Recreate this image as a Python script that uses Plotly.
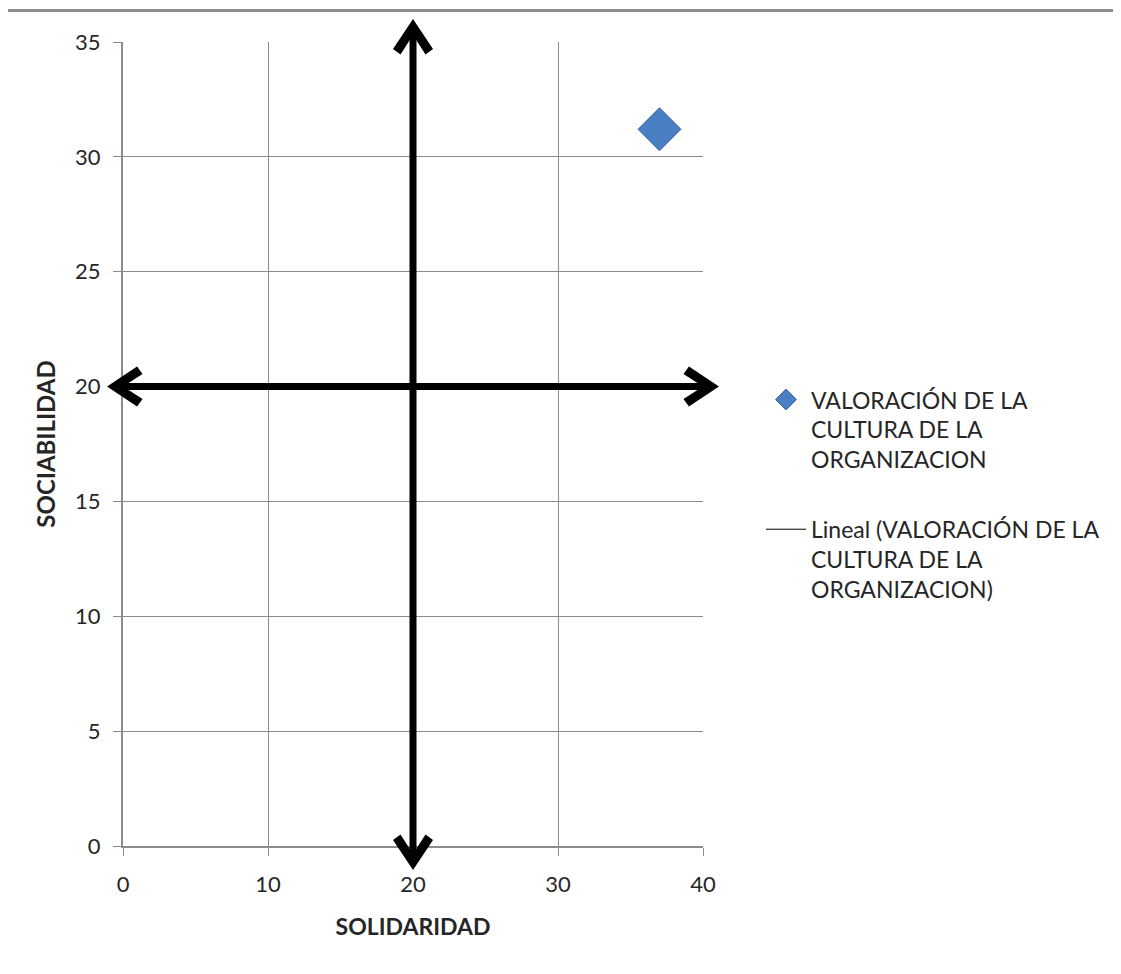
import plotly.graph_objects as go

# Data
x_vals = [37]
y_vals = [31.2]
series_name = "VALORACIÓN DE LA<br>CULTURA DE LA<br>ORGANIZACION"
trend_name = "Lineal (VALORACIÓN DE LA<br>CULTURA DE LA<br>ORGANIZACION)"
x_ticks = [0, 10, 20, 30, 40]
y_ticks = [0, 5, 10, 15, 20, 25, 30, 35]
x_range = [0, 40]
y_range = [0, 35]
x_mid = 20
y_mid = 20
v_arrow_span = [-1.05, 36.0]   # vertical arrow extent (y units)
h_arrow_span = [-1.1, 41.1]    # horizontal arrow extent (x units)

FONT = "Lato, 'Open Sans', sans-serif"
TXT = "#262626"

# Layout geometry (page has 8px body margin)
W, H = 1113, 966
ML, MT, PW, PH = 115, 34, 580, 804
MR, MB = W - ML - PW, H - MT - PH

fig = go.Figure()
fig.add_trace(go.Scatter(
    x=x_vals, y=y_vals, mode="markers", name=series_name, legendgroup="a",
    marker=dict(symbol="diamond", size=33, color="#4a7fc4",
                line=dict(color="#3463a3", width=1)),
))
fig.add_trace(go.Scatter(
    x=[None], y=[None], mode="lines", name=trend_name, legendgroup="b",
    line=dict(color="black", width=1),
))

def xfrac(v):
    return (v - x_range[0]) / (x_range[1] - x_range[0])

def yfrac(v):
    return (v - y_range[0]) / (y_range[1] - y_range[0])

# chevron arrowhead (pixels, pointing +y, tip at origin)
CHEV = [(0, 0), (20, -30), (12.5, -35.5), (0, -16), (-12.5, -35.5), (-20, -30)]

def chevron_path(rot):
    pts = []
    for px, py in CHEV:
        if rot == "up":
            q = (px, py)
        elif rot == "down":
            q = (px, -py)
        elif rot == "right":
            q = (py, px)
        else:
            q = (-py, px)
        pts.append(q)
    return "M " + " L ".join(f"{a:.1f},{b:.1f}" for a, b in pts) + " Z"

def add_arrow(orient):
    common = dict(xref="paper", yref="paper", line=dict(width=0),
                  fillcolor="black", layer="above")
    if orient == "v":
        xa = xfrac(x_mid)
        y0, y1 = yfrac(v_arrow_span[0]), yfrac(v_arrow_span[1])
        fig.add_shape(type="line", xref="paper", yref="paper", x0=xa, x1=xa,
                      y0=y0 + 10 / PH, y1=y1 - 10 / PH, line=dict(color="black", width=7))
        fig.add_shape(type="path", xsizemode="pixel", ysizemode="pixel",
                      xanchor=xa, yanchor=y1, path=chevron_path("up"), **common)
        fig.add_shape(type="path", xsizemode="pixel", ysizemode="pixel",
                      xanchor=xa, yanchor=y0, path=chevron_path("down"), **common)
    else:
        ya = yfrac(y_mid)
        x0, x1 = xfrac(h_arrow_span[0]), xfrac(h_arrow_span[1])
        fig.add_shape(type="line", xref="paper", yref="paper", y0=ya, y1=ya,
                      x0=x0 + 10 / PW, x1=x1 - 10 / PW, line=dict(color="black", width=7))
        fig.add_shape(type="path", xsizemode="pixel", ysizemode="pixel",
                      xanchor=x1, yanchor=ya, path=chevron_path("right"), **common)
        fig.add_shape(type="path", xsizemode="pixel", ysizemode="pixel",
                      xanchor=x0, yanchor=ya, path=chevron_path("left"), **common)

add_arrow("v")
add_arrow("h")

# Spreadsheet header remnant at top
fig.add_shape(type="line", xref="paper", yref="paper", x0=-0.3, x1=1.8,
              y0=1 + (MT - 2.5) / PH, y1=1 + (MT - 2.5) / PH,
              line=dict(color="#8c8c8c", width=3))

fig.update_layout(
    width=W, height=H,
    margin=dict(l=ML, r=MR, t=MT, b=MB),
    paper_bgcolor="white", plot_bgcolor="white",
    font=dict(family=FONT, size=20, color=TXT),
    showlegend=True,
    legend=dict(x=1.1, y=0.582, xanchor="left", yanchor="top", valign="top",
                font=dict(family=FONT, size=23, color=TXT),
                tracegroupgap=37, itemwidth=40),
)
fig.update_xaxes(
    range=x_range, tickvals=x_ticks, showgrid=True, gridcolor="#8c8c8c", gridwidth=1,
    showline=True, linecolor="#8c8c8c", linewidth=2, ticks="outside", ticklen=8,
    tickcolor="#8c8c8c", zeroline=False, tickfont=dict(size=22, color=TXT),
    ticklabelstandoff=10,
    title=dict(text="<b>SOLIDARIDAD</b>", font=dict(size=23, color=TXT), standoff=22),
)
fig.update_yaxes(
    range=y_range, tickvals=y_ticks, showgrid=True, gridcolor="#8c8c8c", gridwidth=1,
    showline=True, linecolor="#8c8c8c", linewidth=2, ticks="outside", ticklen=8,
    tickcolor="#8c8c8c", zeroline=False, tickfont=dict(size=22, color=TXT),
    ticklabelstandoff=8,
    title=dict(text="<b>SOCIABILIDAD</b>", font=dict(size=24, color=TXT), standoff=13),
)

fig.write_html("out.html")
